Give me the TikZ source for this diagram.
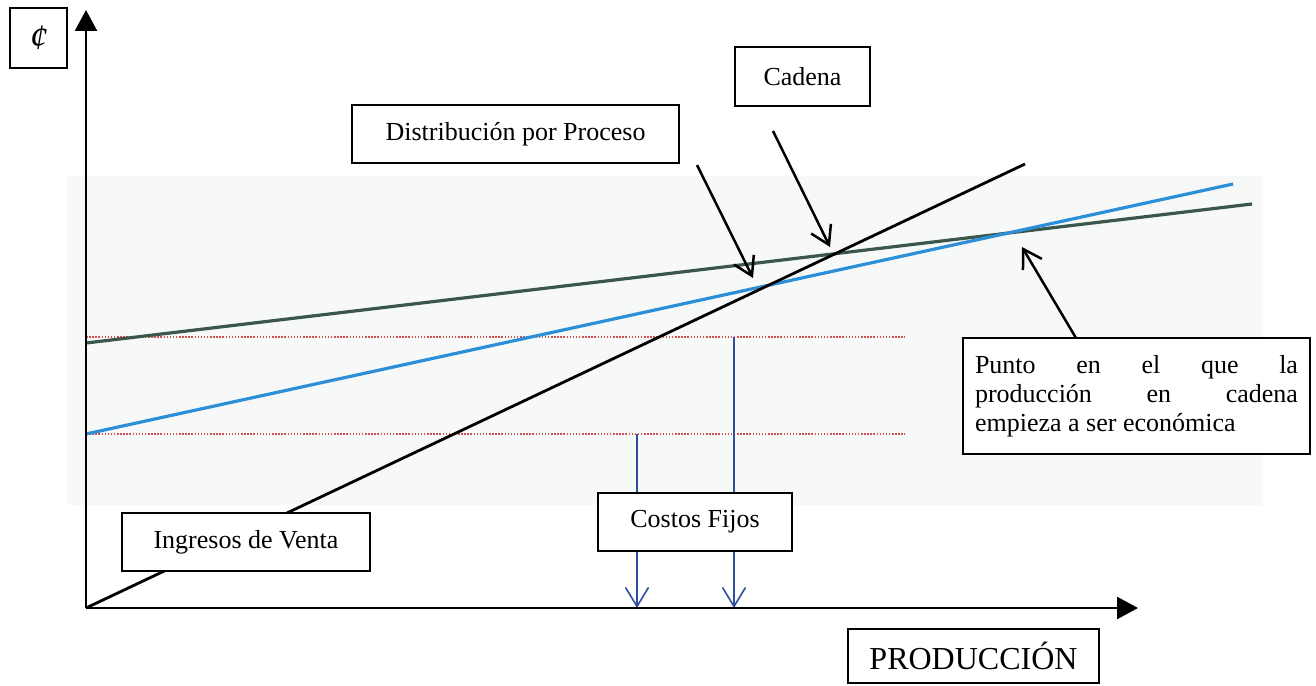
\documentclass[tikz,border=0pt]{standalone}
\usepackage{fontspec}
\setmainfont{Liberation Serif}
\usetikzlibrary{arrows.meta}

\definecolor{zonefill}{HTML}{F7F9F9}
\definecolor{procline}{HTML}{3B5749}
\definecolor{chainline}{HTML}{2C8FD8}
\definecolor{fixline}{HTML}{2E4F9C}
\definecolor{fixdot}{HTML}{D2504E}

\tikzset{
  every picture/.style={x=1pt,y=-1pt},
  labelbox/.style={draw=black, line width=2pt, fill=white, inner sep=0pt,
    font=\fontsize{26}{29}\selectfont},
  axisline/.style={line width=2.5pt, -{Triangle[length=21pt,width=22pt]}},
  pointer/.style={line width=2.5pt, -{Straight Barb[length=18pt,width=22pt,line width=2.5pt]}},
  fixarrow/.style={fixline, line width=1.6pt, -{Straight Barb[length=19pt,width=23pt,line width=1.6pt]}},
  levelline/.style={fixdot, line width=1.6pt, dash pattern=on 1.5pt off 1.6pt},
}

\begin{document}
\begin{tikzpicture}
\useasboundingbox (0,0) rectangle (1316,685);
\fill[white] (0,0) rectangle (1316,685);

% light band behind the curves
\fill[zonefill] (67,176) rectangle (1263,505);

% reference points
\coordinate (O) at (86,608);
\coordinate (ytip) at (86,10);
\coordinate (xtip) at (1138,608);
\coordinate (salesEnd) at (1025,164);
\coordinate (procStart) at (86,343);
\coordinate (procEnd) at (1252,204);
\coordinate (chainStart) at (86,434);
\coordinate (chainEnd) at (1233,184);
\coordinate (lvlA) at (905,337);
\coordinate (lvlB) at (905,434);
\coordinate (fixA) at (637,434);
\coordinate (fixB) at (734,337);
\coordinate (fixAend) at (637,608);
\coordinate (fixBend) at (734,608);
\coordinate (hitProc) at (753,278);
\coordinate (hitChain) at (830,247);
\coordinate (hitBreak) at (1022,247);
\coordinate (distTail) at (697,165);
\coordinate (chainTail) at (773,131);
\coordinate (breakTail) at (1076,338);

% fixed-cost levels
\draw[levelline] (86,337) -- (lvlA);
\draw[levelline] (86,434) -- (lvlB);

% cost and revenue lines
\draw[procline, line width=3.2pt] (procStart) -- (procEnd);
\draw[chainline, line width=3.2pt] (chainStart) -- (chainEnd);
\draw[line width=2.8pt] (O) -- (salesEnd);

% fixed-cost drop lines
\draw[fixarrow] (fixA) -- (fixAend);
\draw[fixarrow] (fixB) -- (fixBend);

% axes
\draw[axisline] (O) -- (ytip);
\draw[axisline] (O) -- (xtip);

% labels
\node[labelbox, minimum width=57pt, minimum height=60pt,
      font=\fontsize{36}{40}\selectfont] (cur) at (38.5,38) {\textit{¢}};
\node[labelbox, minimum width=135pt, minimum height=59pt] (cad) at (802.5,76.5) {Cadena};
\node[labelbox, minimum width=327pt, minimum height=58pt] (dist) at (515.5,134) {Distribución por Proceso};
\node[labelbox, minimum width=248pt, minimum height=58pt] (ing) at (246,542) {Ingresos de Venta};
\node[labelbox, minimum width=194pt, minimum height=58pt] (cf) at (695,522) {Costos Fijos};
\node[labelbox, minimum width=251pt, minimum height=54pt,
      font=\fontsize{32}{36}\selectfont] (prod) at (973.5,656) {PRODUCCIÓN};
\node[labelbox, minimum width=347pt, minimum height=116pt, align=left] (punto) at (1136.5,396)
  {\parbox{323pt}{%
    \hbox to 323pt{Punto\hfill en\hfill el\hfill que\hfill la}%
    \hbox to 323pt{producción\hfill en\hfill cadena}%
    \hbox to 323pt{empieza a ser económica\hfil}}};

% pointers
\draw[pointer] (distTail) -- (hitProc);
\draw[pointer] (chainTail) -- (hitChain);
\draw[pointer] (breakTail) -- (hitBreak);
\end{tikzpicture}
\end{document}
